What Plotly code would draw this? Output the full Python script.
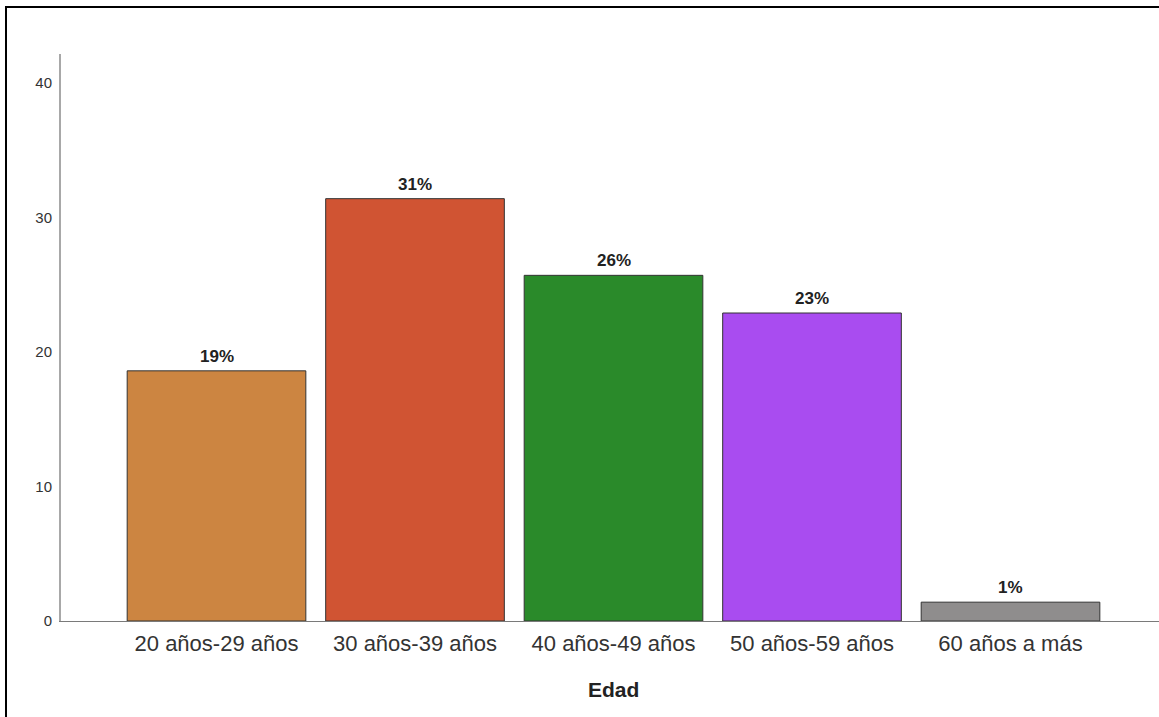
import plotly.graph_objects as go

categories = ["20 años-29 años", "30 años-39 años", "40 años-49 años", "50 años-59 años", "60 años a más"]
values = [18.6, 31.4, 25.7, 22.9, 1.4]
labels = ["19%", "31%", "26%", "23%", "1%"]
colors = ["#cc8541", "#d05433", "#2a8a2a", "#a94cf0", "#8f8d8d"]
y_ticks = [0, 10, 20, 30, 40]

W, H = 1159, 717
L, R, T, B = 61, 0, 54, 96
pw, ph = W - L - R, H - T - B

fig = go.Figure()
fig.add_trace(go.Bar(
    x=list(range(len(categories))), y=values,
    marker=dict(color=colors, line=dict(color="#333333", width=1)),
    width=0.9, hoverinfo="skip",
))
for i, (v, lab) in enumerate(zip(values, labels)):
    fig.add_annotation(x=i, y=v, text="<b>" + lab + "</b>", showarrow=False,
                       yanchor="bottom", yshift=3,
                       font=dict(family="Liberation Sans, Arial", size=17, color="#222222"))

fig.add_annotation(xref="paper", yref="paper", x=(613.5 - L) / pw, y=-(689 - 621) / ph,
                   text="<b>Edad</b>", showarrow=False, xanchor="center", yanchor="middle",
                   font=dict(family="Liberation Sans, Arial", size=21, color="#222222"))

# outer frame
fig.add_shape(type="rect", xref="paper", yref="paper",
              x0=(6 - L) / pw, x1=1.2, y0=-0.5, y1=(621 - 7) / ph,
              line=dict(color="black", width=2), fillcolor="rgba(0,0,0,0)", layer="above")

fig.update_layout(
    width=W, height=H,
    margin=dict(l=L, r=R, t=T, b=B, pad=0),
    plot_bgcolor="white", paper_bgcolor="white",
    showlegend=False,
    font=dict(family="Liberation Sans, Arial", color="#333333"),
    xaxis=dict(
        tickmode="array", tickvals=list(range(len(categories))), ticktext=categories,
        range=[(L - 216.5) / 198.5, (W - 216.5) / 198.5],
        showgrid=False, zeroline=False, showline=True, linecolor="#7a7a7a", linewidth=1,
        ticks="", tickfont=dict(size=22, color="#333333"), ticklabelstandoff=3,
    ),
    yaxis=dict(
        range=[0, (621 - 54) / 13.45], tickvals=y_ticks,
        showgrid=False, zeroline=False, showline=True, linecolor="#a8a8a8", linewidth=2,
        ticks="", tickfont=dict(size=15, color="#333333"), ticklabelstandoff=4,
    ),
)
fig.write_html("out.html")
